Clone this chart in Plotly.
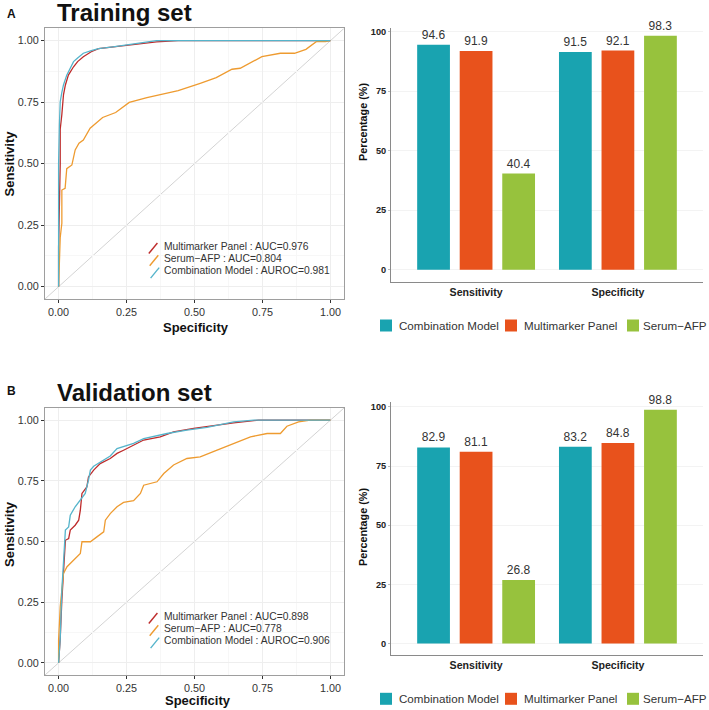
import plotly.graph_objects as go
from plotly.subplots import make_subplots

# ── Data ───────────────────────────────────────────────
# ROC curves (x = 1 - specificity, shown as "Specificity" in the original)
train_mm_x = [0, 0, 0.006, 0.006, 0.012, 0.018, 0.025, 0.036, 0.055, 0.07, 0.091, 0.12, 0.147, 0.2, 0.239, 0.3, 0.36, 0.44, 1.0]
train_mm_y = [0, 0.16, 0.5, 0.64, 0.70, 0.78, 0.82, 0.86, 0.894, 0.915, 0.935, 0.955, 0.968, 0.975, 0.98, 0.99, 0.995, 1.0, 1.0]

train_afp_x = [0, 0.006, 0.006, 0.012, 0.012, 0.024, 0.03, 0.049, 0.055, 0.061, 0.075, 0.091, 0.116, 0.14, 0.162, 0.21, 0.26, 0.325, 0.44, 0.521, 0.58, 0.638, 0.668, 0.748, 0.816, 0.868, 0.91, 0.948, 0.982, 1.0]
train_afp_y = [0, 0.16, 0.2, 0.258, 0.393, 0.40, 0.48, 0.495, 0.53, 0.556, 0.583, 0.596, 0.644, 0.665, 0.688, 0.708, 0.749, 0.769, 0.797, 0.827, 0.85, 0.884, 0.888, 0.935, 0.949, 0.949, 0.965, 0.996, 0.996, 1.0]

train_cm_x = [0, 0, 0.003, 0.006, 0.012, 0.018, 0.03, 0.042, 0.055, 0.07, 0.091, 0.12, 0.147, 0.2, 0.25, 0.3, 0.36, 1.0]
train_cm_y = [0, 0.5, 0.66, 0.752, 0.79, 0.82, 0.86, 0.89, 0.915, 0.93, 0.949, 0.96, 0.968, 0.975, 0.982, 0.99, 1.0, 1.0]

valid_mm_x = [0, 0.006, 0.012, 0.018, 0.025, 0.037, 0.043, 0.061, 0.074, 0.08, 0.086, 0.104, 0.11, 0.129, 0.153, 0.19, 0.215, 0.239, 0.276, 0.313, 0.374, 0.423, 0.497, 0.571, 0.644, 0.736, 1.0]
valid_mm_y = [0, 0.1, 0.258, 0.368, 0.505, 0.512, 0.547, 0.567, 0.588, 0.629, 0.698, 0.725, 0.766, 0.794, 0.821, 0.842, 0.863, 0.876, 0.897, 0.918, 0.931, 0.952, 0.966, 0.979, 0.989, 1.0, 1.0]

valid_afp_x = [0, 0, 0.006, 0.012, 0.018, 0.031, 0.055, 0.08, 0.086, 0.117, 0.141, 0.166, 0.172, 0.19, 0.215, 0.239, 0.276, 0.301, 0.313, 0.362, 0.387, 0.423, 0.472, 0.521, 0.583, 0.644, 0.706, 0.767, 0.816, 0.84, 0.883, 0.926, 1.0]
valid_afp_y = [0, 0.093, 0.231, 0.313, 0.368, 0.396, 0.423, 0.451, 0.499, 0.499, 0.519, 0.54, 0.588, 0.615, 0.643, 0.661, 0.668, 0.698, 0.732, 0.746, 0.78, 0.815, 0.842, 0.849, 0.876, 0.904, 0.931, 0.945, 0.945, 0.975, 0.993, 1.0, 1.0]

valid_cm_x = [0, 0.006, 0.012, 0.025, 0.037, 0.043, 0.061, 0.08, 0.098, 0.11, 0.117, 0.129, 0.153, 0.19, 0.215, 0.276, 0.313, 0.399, 0.472, 0.546, 0.644, 0.718, 1.0]
valid_cm_y = [0, 0.1, 0.3, 0.547, 0.56, 0.608, 0.643, 0.67, 0.698, 0.753, 0.794, 0.81, 0.828, 0.852, 0.883, 0.904, 0.924, 0.945, 0.959, 0.97, 0.993, 1.0, 1.0]

train_auc = ["AUC=0.976", "AUC=0.804", "AUROC=0.981"]
valid_auc = ["AUC=0.898", "AUC=0.778", "AUROC=0.906"]

# Bar charts
metrics = ["Sensitivity", "Specificity"]
models = ["Combination Model", "Multimarker Panel", "Serum\u2212AFP"]
train_bars = [[94.6, 91.5], [91.9, 92.1], [40.4, 98.3]]
valid_bars = [[82.9, 83.2], [81.1, 84.8], [26.8, 98.8]]

# ── Style ──────────────────────────────────────────────
W, H = 709, 710
FONT = "Liberation Sans"
RED_L = '#BE2B2B'
ORG_L = '#EE9B30'
BLU_L = '#55B4CB'
TEAL = '#19A3B0'
ORNG = '#E8521C'
GRN = '#97C23D'
TXT = '#333333'


def fx(p):
    return p / W


def fy(p):
    return 1 - p / H


fig = make_subplots(rows=2, cols=2)

# ── ROC panels ─────────────────────────────────────────
roc_sets = [
    (1, [(train_mm_x, train_mm_y, RED_L), (train_afp_x, train_afp_y, ORG_L), (train_cm_x, train_cm_y, BLU_L)]),
    (2, [(valid_mm_x, valid_mm_y, RED_L), (valid_afp_x, valid_afp_y, ORG_L), (valid_cm_x, valid_cm_y, BLU_L)]),
]
for row, curves in roc_sets:
    for xs, ys, col in curves:
        fig.add_trace(go.Scatter(x=xs, y=ys, mode='lines', showlegend=False,
                                 line=dict(color=col, width=1.3)), row=row, col=1)

# ── Bar panels ─────────────────────────────────────────
bar_cols = [TEAL, ORNG, GRN]
for row, data in [(1, train_bars), (2, valid_bars)]:
    for name, vals, col in zip(models, data, bar_cols):
        fig.add_trace(go.Bar(x=metrics, y=vals, name=name, marker_color=col,
                             marker_line_width=0, showlegend=False,
                             text=[f"{v:.1f}" for v in vals], textposition='outside',
                             textfont=dict(family=FONT, size=12, color=TXT),
                             cliponaxis=False), row=row, col=2)

# domains (pixel based)
roc_x = [fx(45), fx(344)]
bar_x = [fx(391), fx(703)]
fig.update_layout(
    xaxis=dict(domain=roc_x), yaxis=dict(domain=[fy(299), fy(28.4)]),
    xaxis2=dict(domain=bar_x), yaxis2=dict(domain=[fy(282), fy(28)]),
    xaxis3=dict(domain=roc_x), yaxis3=dict(domain=[fy(675), fy(408)]),
    xaxis4=dict(domain=bar_x), yaxis4=dict(domain=[fy(655), fy(402)]),
)

roc_ax = dict(range=[-0.05, 1.05], tickvals=[0, 0.25, 0.5, 0.75, 1.0],
              ticktext=['0.00', '0.25', '0.50', '0.75', '1.00'],
              showline=True, mirror=True, linecolor='#9E9E9E', linewidth=1,
              ticks='outside', ticklen=3, tickcolor='#333333',
              gridcolor='#EEEEEE', gridwidth=1, zeroline=False,
              minor=dict(tickvals=[0.125, 0.375, 0.625, 0.875], showgrid=True, gridcolor='#F7F7F7'),
              tickfont=dict(family=FONT, size=10.8, color=TXT))
for r in [1, 2]:
    fig.update_xaxes(roc_ax, row=r, col=1)
    fig.update_yaxes(roc_ax, row=r, col=1)

fig.update_xaxes(type='category', range=[-0.6, 1.6], showline=True, linecolor='#8A8A8A',
                 linewidth=1, ticks='', showgrid=False,
                 tickfont=dict(family=FONT, size=10.6, color='#222222', weight='bold'),
                 col=2)
fig.update_yaxes(tickvals=[0, 25, 50, 75, 100], showline=True, linecolor='#8A8A8A',
                 linewidth=1, ticks='outside', ticklen=2, tickcolor='#BBBBBB',
                 gridcolor='#F3F3F3', zeroline=False,
                 tickfont=dict(family=FONT, size=9.2, color='#222222', weight='bold'),
                 col=2)
fig.update_yaxes(range=[-5.2, 101.6], row=1, col=2)
fig.update_yaxes(range=[-4.9, 102.1], row=2, col=2)

# diagonal reference lines
for xr, yr in [('x', 'y'), ('x3', 'y3')]:
    fig.add_shape(type='line', xref=xr, yref=yr, x0=-0.05, y0=-0.05, x1=1.05, y1=1.05,
                  line=dict(color='#C8C8C8', width=0.8), layer='below')

ann = []
# panel titles
for label, lx, ly, title, ty in [('A', 11, 14, 'Training set', 12.5), ('B', 11, 391, 'Validation set', 392.5)]:
    ann.append(dict(text=f'<b>{label}</b>', x=fx(lx), y=fy(ly), font=dict(size=12, color='#111111')))
    ann.append(dict(text=f'<b>{title}</b>', x=fx(55), y=fy(ty), xanchor='left',
                    font=dict(size=24, color='#111111')))

# axis titles
for cy, sx, sy in [(163.5, 196.3, 327), (534, 198, 700.7)]:
    ann.append(dict(text='<b>Sensitivity</b>', x=fx(9), y=fy(cy), textangle=-90,
                    font=dict(size=13, color='#111111')))
    ann.append(dict(text='<b>Specificity</b>', x=fx(sx), y=fy(sy),
                    font=dict(size=13, color='#111111')))
for cy in [122, 527]:
    ann.append(dict(text='<b>Percentage (%)</b>', x=fx(363), y=fy(cy), textangle=-90,
                    font=dict(size=10.8, color='#111111')))

# ROC legends (slash keys + labels)
roc_names = ["Multimarker Panel", "Serum\u2212AFP", "Combination Model"]
roc_cols = [RED_L, ORG_L, BLU_L]
shapes = []
for base, aucs in [(246, train_auc), (616, valid_auc)]:
    for i, (nm, auc, col) in enumerate(zip(roc_names, aucs, roc_cols)):
        yc = base + i * 12.3
        ann.append(dict(text=f'{nm} : {auc}', x=fx(162), y=fy(yc), xanchor='left',
                        font=dict(size=10.3, color=TXT)))
        shapes.append(dict(type='line', xref='paper', yref='paper',
                           x0=fx(148.8 + i * 0.9), y0=fy(yc + 7.5), x1=fx(157.4 + i * 0.9), y1=fy(yc - 3),
                           line=dict(color=col, width=1.4)))

# bar legends (square keys + labels)
leg_sq = [380, 505, 627]
leg_tx = [397, 522, 641]
for yc in [325.5, 698.8]:
    for sq, tx, nm, col in zip(leg_sq, leg_tx, models, bar_cols):
        shapes.append(dict(type='rect', xref='paper', yref='paper',
                           x0=fx(sq), x1=fx(sq + 12), y0=fy(yc + 6), y1=fy(yc - 6),
                           fillcolor=col, line=dict(width=0)))
        ann.append(dict(text=nm, x=fx(tx), y=fy(yc), xanchor='left',
                        font=dict(size=11.6, color=TXT)))

for a in ann:
    a.setdefault('xref', 'paper')
    a.setdefault('yref', 'paper')
    a.setdefault('showarrow', False)
    a.setdefault('xanchor', 'center')
    a.setdefault('yanchor', 'middle')
    a['font'].setdefault('family', FONT)

fig.update_layout(
    width=W, height=H, margin=dict(l=0, r=0, t=0, b=0),
    plot_bgcolor='white', paper_bgcolor='white',
    barmode='group', bargap=0.1, bargroupgap=0.23,
    font=dict(family=FONT, color=TXT),
    annotations=ann,
    shapes=list(fig.layout.shapes) + shapes,
    showlegend=False,
)

fig.write_html("out.html", config={'displayModeBar': False},
               post_script="document.body.style.margin='0';")
